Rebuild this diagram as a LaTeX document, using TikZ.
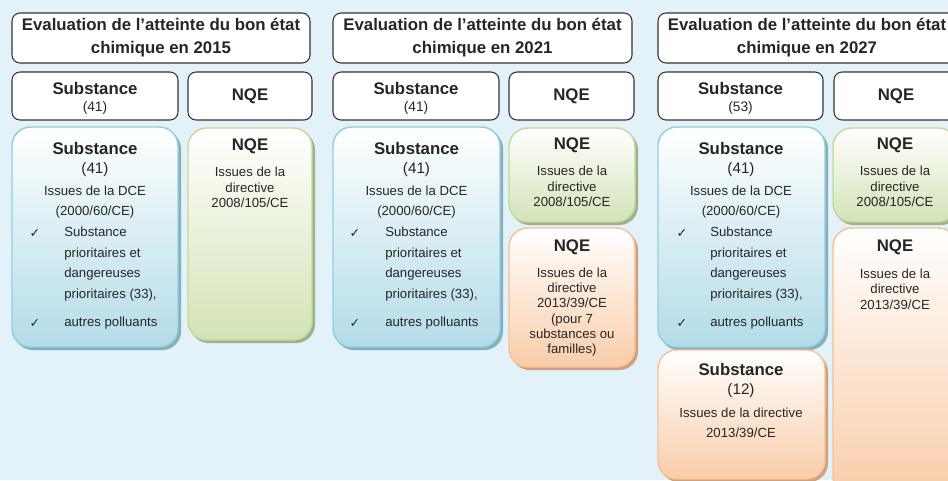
\documentclass[tikz,border=0pt]{standalone}
\usepackage{fontspec}
\setmainfont{Liberation Sans}
\newfontfamily\symfont{DejaVu Sans}
\usepackage{tikz}

\definecolor{bgblue}{HTML}{E3F2F8}
\definecolor{framegray}{HTML}{333333}
\definecolor{textgray}{HTML}{262626}
\definecolor{blueline}{HTML}{92CFE0}
\definecolor{bluefill}{HTML}{B3DCE8}
\definecolor{blueshd}{HTML}{86AEBB}
\definecolor{greenline}{HTML}{C3DA9C}
\definecolor{greenfill}{HTML}{D3E3B6}
\definecolor{greenshd}{HTML}{9FB08A}
\definecolor{orangeline}{HTML}{F5C296}
\definecolor{orangefill}{HTML}{F9CDA9}
\definecolor{orangeshd}{HTML}{CFA07E}

\begin{document}
\begin{tikzpicture}[x=0.75pt, y=-0.75pt,
    frame/.style={draw=framegray, line width=0.8pt, fill=white, rounded corners=6pt},
    bluebox/.style={draw=blueline, line width=1.1pt, top color=white, bottom color=bluefill, rounded corners=14pt},
    greenbox/.style={draw=greenline, line width=1.1pt, top color=white, bottom color=greenfill, rounded corners=14pt},
    orangebox/.style={draw=orangeline, line width=1.1pt, top color=white, bottom color=orangefill, rounded corners=14pt},
    shd/.style={fill=#1, rounded corners=14pt},
    head/.style={font=\bfseries\fontsize{12.6}{17.3}\selectfont, text=textgray, align=center},
    hnum/.style={font=\fontsize{10.3}{12}\selectfont, text=textgray},
    bnum/.style={font=\fontsize{11.4}{14}\selectfont, text=textgray},
    txt/.style={font=\fontsize{9.9}{15.3}\selectfont, text=textgray, align=center},
    src/.style={font=\fontsize{9.9}{11.5}\selectfont, text=textgray, align=center},
    chk/.style={font=\symfont\fontsize{9.5}{11}\selectfont, text=textgray}]
    \useasboundingbox (0,0) rectangle (948,480);
    \clip (0,0) rectangle (948,480);
    \fill[bgblue] (0,0) rectangle (948,480);

    % 2015
    \draw[frame] (12,13) rectangle (310,63);
    \node[head] (title1) at (161,38) {Evaluation de l’atteinte du bon état\\chimique en 2015};
    \draw[frame] (12,72) rectangle (178,120);
    \node[head] (subhead1) at (95,88) {Substance};
    \node[hnum] (subnum1) at (95,108) {(41)};
    \draw[frame] (188,72) rectangle (312,120);
    \node[head] (nqehead1) at (250,96) {NQE};
    \fill[shd=blueshd] (14,130) rectangle (181,350);
    \draw[bluebox] (12,127) rectangle (178,347);
    \node[head] (dce1) at (95,148) {Substance};
    \node[bnum] (dcenum1) at (95,170) {(41)};
    \node[txt] (dcesrc1) at (95,202) {Issues de la DCE\\(2000/60/CE)};
    \node[chk] (chka1) at (35,233) {✓};
    \node[txt, align=left, anchor=west, inner xsep=0pt] (prio1) at (64,264) {Substance\\prioritaires et\\dangereuses\\prioritaires (33),};
    \node[chk] (chkb1) at (35,323) {✓};
    \node[txt, anchor=west, inner xsep=0pt] (autres1) at (64,323) {autres polluants};
    \fill[shd=greenshd] (190,131) rectangle (315,343);
    \draw[greenbox] (188,128) rectangle (312,340);
    \node[head] (nqe1) at (250,146) {NQE};
    \node[src] (nqesrc1) at (250,187.5) {Issues de la\\directive\\2008/105/CE};

    % 2021
    \draw[frame] (333,13) rectangle (632,63);
    \node[head] (title2) at (482.5,38) {Evaluation de l’atteinte du bon état\\chimique en 2021};
    \draw[frame] (333,72) rectangle (499,120);
    \node[head] (subhead2) at (416,88) {Substance};
    \node[hnum] (subnum2) at (416,108) {(41)};
    \draw[frame] (509,72) rectangle (634,120);
    \node[head] (nqehead2) at (571.5,96) {NQE};
    \fill[shd=blueshd] (335,130) rectangle (503,350);
    \draw[bluebox] (333,127) rectangle (500,347);
    \node[head] (dce2) at (416.5,148) {Substance};
    \node[bnum] (dcenum2) at (416.5,170) {(41)};
    \node[txt] (dcesrc2) at (416.5,202) {Issues de la DCE\\(2000/60/CE)};
    \node[chk] (chka2) at (355,233) {✓};
    \node[txt, align=left, anchor=west, inner xsep=0pt] (prio2) at (385,264) {Substance\\prioritaires et\\dangereuses\\prioritaires (33),};
    \node[chk] (chkb2) at (355,323) {✓};
    \node[txt, anchor=west, inner xsep=0pt] (autres2) at (385,323) {autres polluants};
    \fill[shd=greenshd] (511,131) rectangle (638,225);
    \draw[greenbox] (509,128) rectangle (635,222);
    \node[head] (nqe2) at (572,145) {NQE};
    \node[src] (nqesrc2) at (572,186.5) {Issues de la\\directive\\2008/105/CE};
    \fill[shd=orangeshd] (511,231) rectangle (638,370);
    \draw[orangebox] (509,228) rectangle (635,367);
    \node[head] (nqe3) at (572,247) {NQE};
    \node[src] (nqesrc3) at (572,312) {Issues de la\\directive\\2013/39/CE\\(pour 7\\substances ou\\familles)};

    % 2027
    \draw[frame] (658,13) rectangle (956,63);
    \node[head] (title3) at (807,38) {Evaluation de l’atteinte du bon état\\chimique en 2027};
    \draw[frame] (658,72) rectangle (823,120);
    \node[head] (subhead3) at (740.5,88) {Substance};
    \node[hnum] (subnum3) at (740.5,108) {(53)};
    \draw[frame] (834,72) rectangle (958,120);
    \node[head] (nqehead3) at (896,96) {NQE};
    \fill[shd=blueshd] (660,130) rectangle (828,350);
    \draw[bluebox] (658,127) rectangle (825,347);
    \node[head] (dce3) at (741,148) {Substance};
    \node[bnum] (dcenum3) at (741,170) {(41)};
    \node[txt] (dcesrc3) at (741,202) {Issues de la DCE\\(2000/60/CE)};
    \node[chk] (chka3) at (682,233) {✓};
    \node[txt, align=left, anchor=west, inner xsep=0pt] (prio3) at (710,264) {Substance\\prioritaires et\\dangereuses\\prioritaires (33),};
    \node[chk] (chkb3) at (682,323) {✓};
    \node[txt, anchor=west, inner xsep=0pt] (autres3) at (710,323) {autres polluants};
    \fill[shd=greenshd] (835,131) rectangle (960,225);
    \draw[greenbox] (833,128) rectangle (957,222);
    \node[head] (nqe4) at (895,145) {NQE};
    \node[src] (nqesrc4) at (895,186.5) {Issues de la\\directive\\2008/105/CE};
    \fill[shd=orangeshd] (835,231) rectangle (960,498);
    \draw[orangebox] (833,228) rectangle (957,495);
    \node[head] (nqe5) at (895,247) {NQE};
    \node[src] (nqesrc5) at (895,289) {Issues de la\\directive\\2013/39/CE};
    \fill[shd=orangeshd] (660,353) rectangle (828,482);
    \draw[orangebox] (658,350) rectangle (825,479);
    \node[head] (sub12) at (741,369) {Substance};
    \node[bnum] (subnum12) at (741,391) {(12)};
    \node[txt, font=\fontsize{9.9}{15}\selectfont] (subsrc12) at (741,423) {Issues de la directive\\2013/39/CE};
\end{tikzpicture}
\end{document}
